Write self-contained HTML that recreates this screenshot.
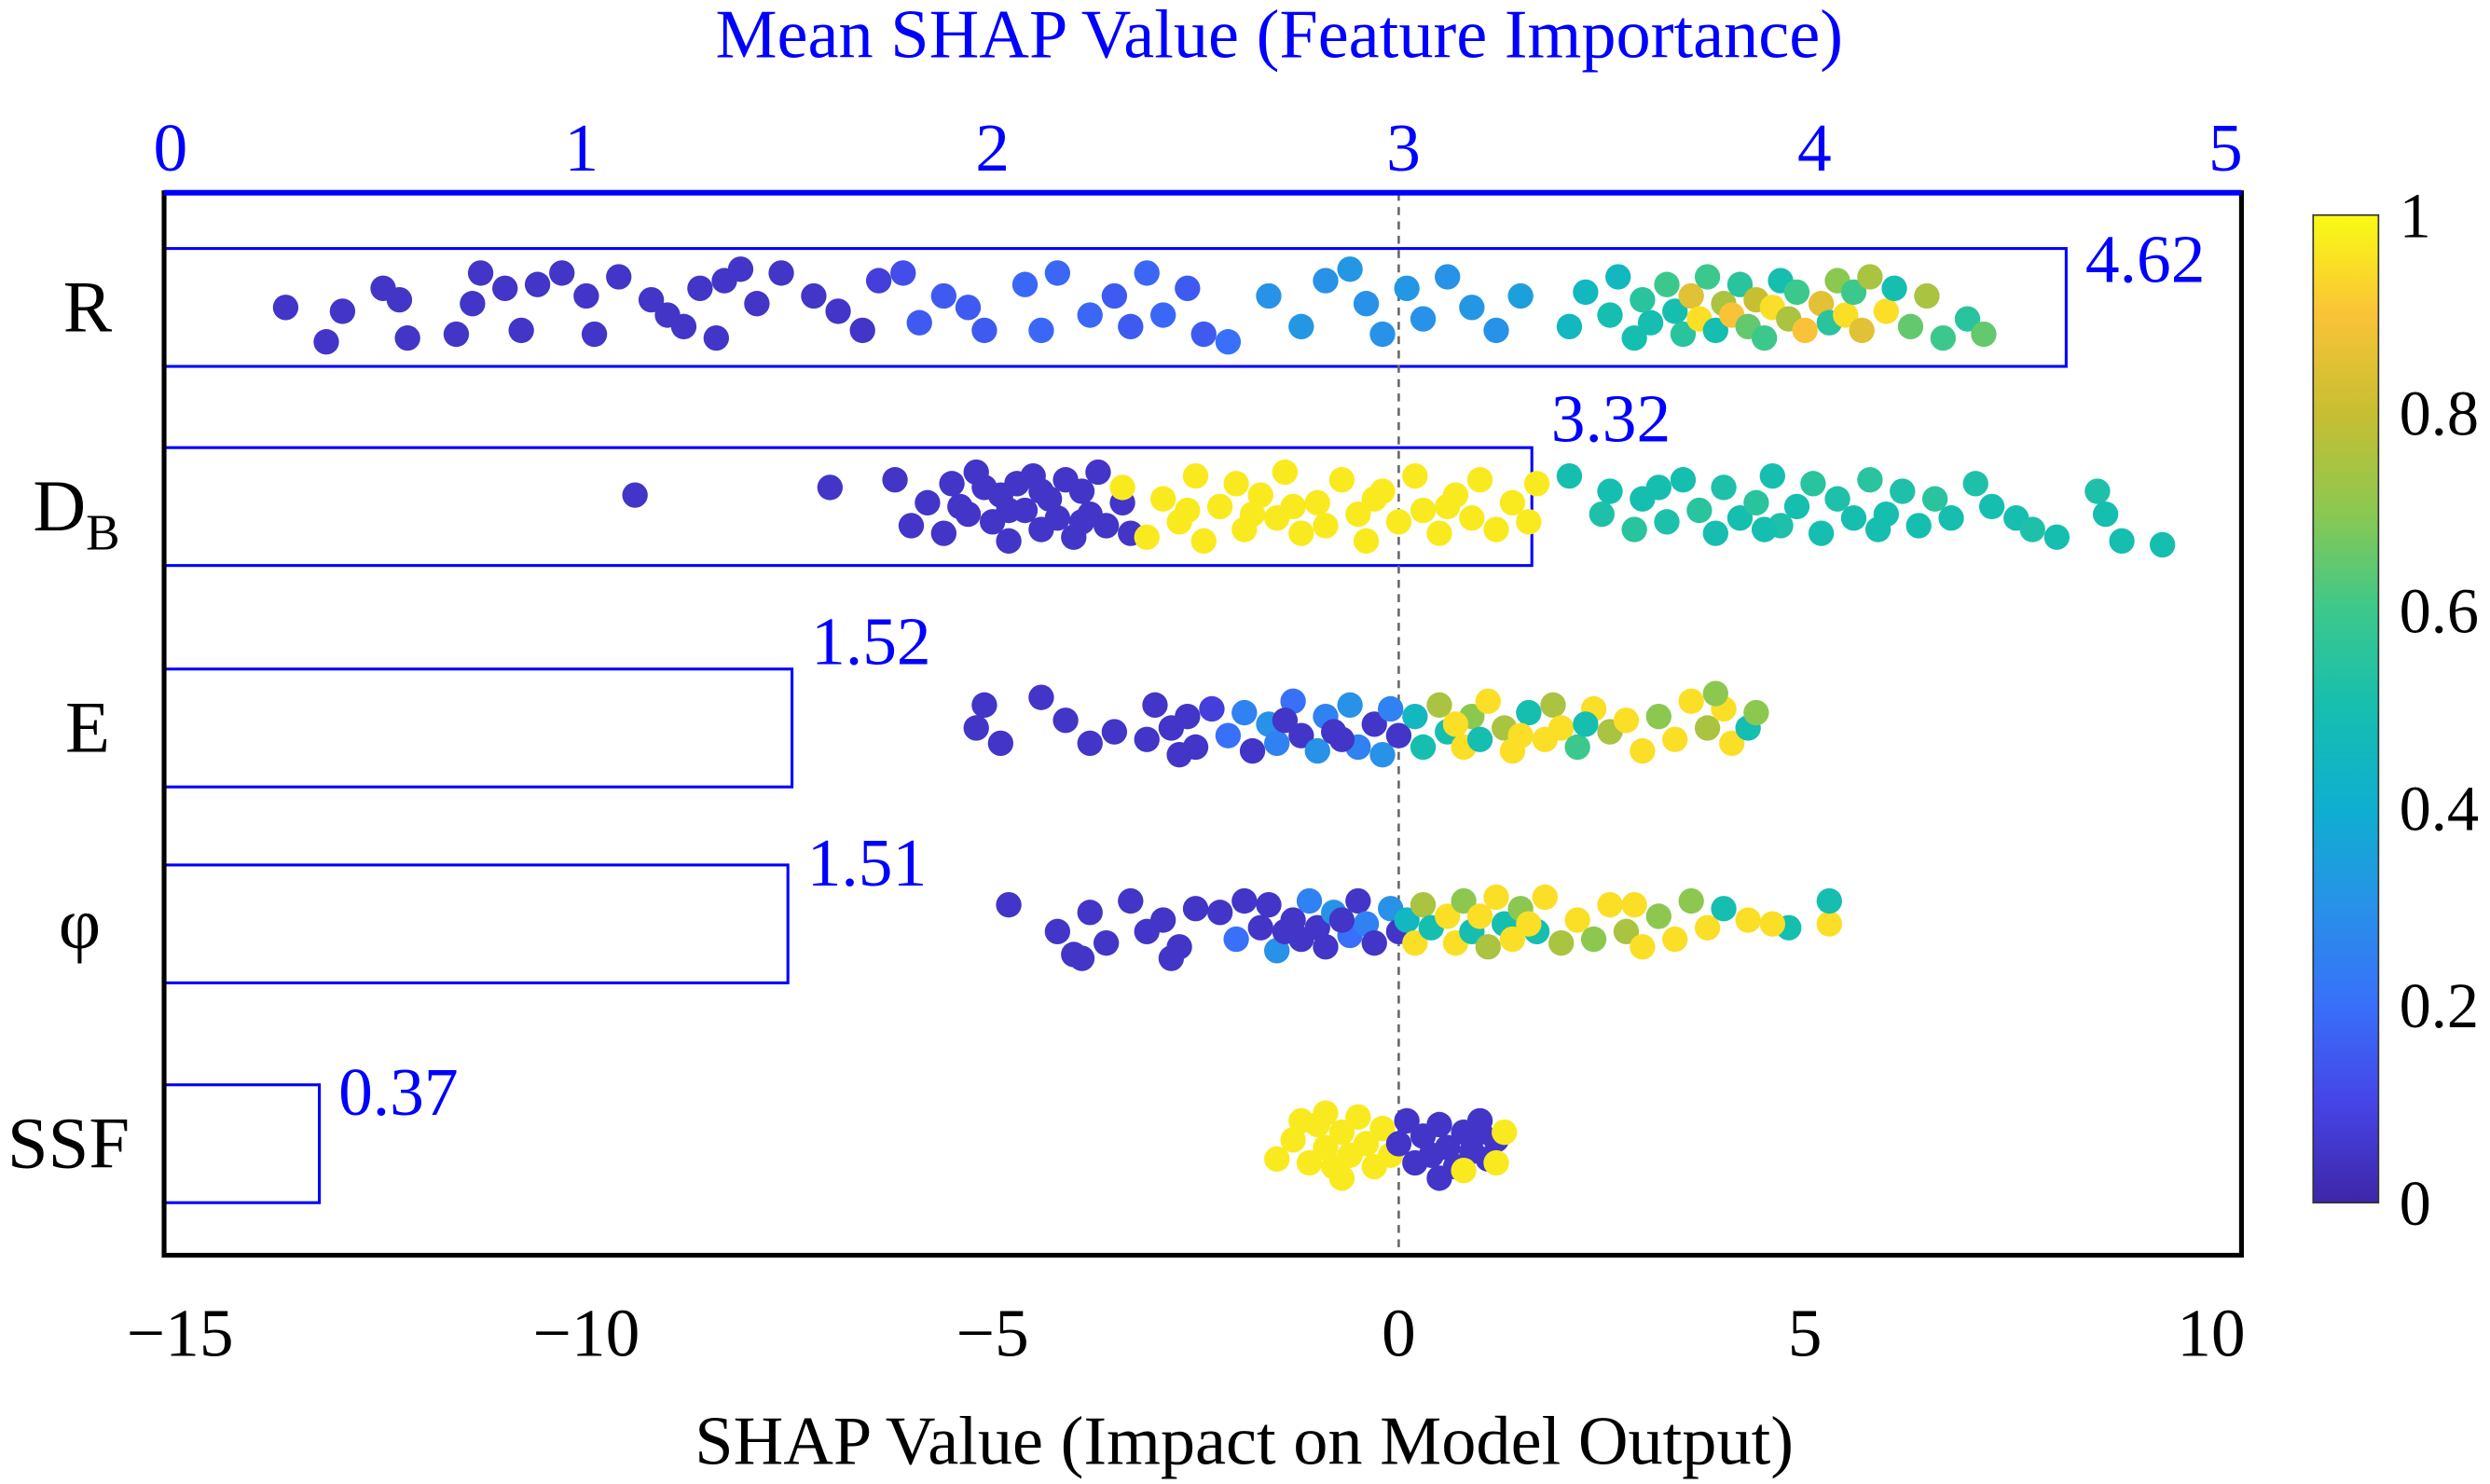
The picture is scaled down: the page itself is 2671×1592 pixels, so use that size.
<!DOCTYPE html>
<html><head><meta charset="utf-8"><style>
html,body{margin:0;padding:0;background:#fff;}
svg{display:block;}
text{font-family:"Liberation Serif",serif;}
</style></head><body>
<svg id="chart" width="2671" height="1592" viewBox="0 0 1563 931.6" xmlns="http://www.w3.org/2000/svg">
<defs>
<linearGradient id="parula" x1="0" y1="1" x2="0" y2="0">
<stop offset="0" stop-color="rgb(62,38,168)"/><stop offset="0.1" stop-color="rgb(70,68,230)"/>
<stop offset="0.2" stop-color="rgb(56,112,250)"/><stop offset="0.3" stop-color="rgb(40,145,232)"/>
<stop offset="0.4" stop-color="rgb(14,175,208)"/><stop offset="0.5" stop-color="rgb(22,190,176)"/>
<stop offset="0.6" stop-color="rgb(60,200,140)"/><stop offset="0.7" stop-color="rgb(140,200,80)"/>
<stop offset="0.8" stop-color="rgb(200,190,50)"/><stop offset="0.9" stop-color="rgb(250,195,55)"/>
<stop offset="1" stop-color="rgb(249,251,20)"/>
</linearGradient>
</defs>
<g id="bars"></g>
<g id="dots"></g>
<g id="axes"></g>
</svg>
<script>
const features = ["R","DB","E","φ","SSF"];
const meanShap = [4.62,3.32,1.52,1.51,0.37];
const meanLabels = ["4.62","3.32","1.52","1.51","0.37"];
const bottomTicks = [-15,-10,-5,0,5,10];
const topTicks = [0,1,2,3,4,5];
const cbTicks = [0,0.2,0.4,0.6,0.8,1];
const cbLabels = ["0","0.2","0.4","0.6","0.8","1"];
// [shap value, jitter (-1..1), feature value]
const ptsR = [[-13.7,0.0,.05],[-13.2,0.9,.05],[-13.0,0.1,.05],[-12.5,-0.5,.05],[-12.3,-0.2,.05],[-12.2,0.8,.05],[-11.6,0.7,.05],[-11.4,-0.1,.05],[-11.3,-0.9,.05],[-11.0,-0.5,.05],[-10.8,0.6,.05],[-10.6,-0.6,.05],[-10.3,-0.9,.05],[-10.0,-0.3,.05],[-9.9,0.7,.05],[-9.6,-0.8,.05],[-9.2,-0.2,.05],[-9.0,0.2,.05],[-8.8,0.5,.05],[-8.6,-0.5,.05],[-8.4,0.8,.05],[-8.3,-0.7,.05],[-8.1,-1.0,.05],[-7.9,-0.1,.05],[-7.6,-0.9,.05],[-7.2,-0.3,.05],[-6.9,0.1,.05],[-6.6,0.6,.05],[-6.4,-0.7,.08],
[-6.1,-0.9,.12],[-5.9,0.4,.15],[-5.6,-0.3,.15],[-5.3,0.0,.15],[-5.1,0.6,.15],[-4.6,-0.6,.18],[-4.4,0.6,.18],[-4.2,-0.9,.18],[-3.8,0.2,.18],[-3.5,-0.3,.15],[-3.3,0.5,.15],[-3.1,-0.9,.18],[-2.9,0.2,.18],[-2.6,-0.5,.15],[-2.4,0.7,.15],[-2.1,0.9,.2],
[-1.6,-0.3,.3],[-1.2,0.5,.32],[-0.9,-0.7,.3],[-0.6,-1.0,.32],[-0.4,-0.1,.3],[-0.2,0.7,.3],[0.1,-0.5,.32],[0.3,0.3,.3],[0.6,-0.8,.3],[0.9,0.0,.32],[1.2,0.6,.3],[1.5,-0.3,.35],
[2.1,0.5,.45],[2.3,-0.4,.45],[2.6,0.2,.5],[2.7,-0.8,.45],[2.9,0.8,.5],[3.0,-0.2,.55],[3.1,0.4,.5],[3.3,-0.6,.6],[3.4,0.1,.5],[3.5,0.7,.55],[3.6,-0.3,.85],[3.7,0.3,.95],[3.8,-0.8,.6],[3.9,0.6,.5],[4.0,-0.1,.75],[4.1,0.2,.9],[4.2,-0.6,.55],[4.3,0.5,.65],[4.4,-0.2,.8],[4.5,0.8,.6],[4.6,0.0,.95],[4.7,-0.7,.5],[4.8,0.3,.75],[4.9,-0.4,.6],[5.0,0.6,.9],[5.2,-0.1,.85],[5.3,0.4,.55],[5.4,-0.7,.7],[5.5,0.2,.95],[5.6,-0.4,.6],[5.7,0.6,.85],[5.8,-0.8,.75],[6.0,0.1,.95],[6.1,-0.5,.5],[6.3,0.5,.65],[6.5,-0.3,.75],[6.7,0.8,.6],[7.0,0.3,.55],[7.2,0.7,.65]];
const ptsDB = [[-9.4,-0.3,.05],[-7.0,-0.5,.05],[-6.2,-0.7,.05],[-6.0,0.5,.05],[-5.8,-0.1,.05],[-5.6,0.7,.05],[-5.5,-0.6,.05],[-5.3,0.2,.05],[-5.2,-0.9,.05],[-5.0,0.4,.05],[-4.9,-0.3,.05],[-4.8,0.9,.05],[-4.7,-0.6,.05],[-4.6,0.1,.05],[-4.5,-0.8,.05],[-4.4,0.6,.05],[-4.3,-0.2,.05],[-4.2,0.3,.05],[-4.1,-0.7,.05],[-4.0,0.8,.05],[-3.9,-0.4,.05],[-3.8,0.2,.05],[-3.7,-0.9,.05],[-3.6,0.5,.05],[-3.4,-0.1,.05],[-3.3,0.7,.05],[-5.4,0.0,.05],[-4.8,0.1,.05],[-5.1,-0.5,.05],[-4.4,-0.4,.05],[-3.9,0.4,.05],
[-3.4,-0.5,.97],[-3.1,0.8,.97],[-2.9,-0.2,.97],[-2.7,0.4,.97],[-2.5,-0.8,.97],[-2.4,0.9,.97],[-2.2,0.0,.97],[-2.0,-0.6,.97],[-1.9,0.6,.97],[-1.7,-0.3,.97],[-1.5,0.3,.97],[-1.4,-0.9,.97],[-1.2,0.7,.97],[-1.0,-0.1,.97],[-0.9,0.5,.97],[-0.7,-0.7,.97],[-0.5,0.2,.97],[-0.4,0.9,.97],[-0.2,-0.4,.97],[0.0,0.4,.97],[0.2,-0.8,.97],[0.3,0.1,.97],[0.5,0.7,.97],[0.7,-0.3,.97],[0.9,0.3,.97],[1.0,-0.7,.97],[1.2,0.6,.97],[1.4,-0.1,.97],[1.6,0.4,.97],[1.7,-0.6,.97],[-2.6,0.1,.97],[-1.3,0.0,.97],[-0.3,-0.2,.97],[0.6,0.0,.97],[-1.8,0.2,.97],
[2.1,-0.8,.5],[2.5,0.2,.52],[2.6,-0.4,.5],[2.9,0.6,.55],[3.0,-0.2,.5],[3.3,0.4,.52],[3.5,-0.7,.5],[3.7,0.1,.55],[3.9,0.7,.5],[4.0,-0.5,.52],[4.2,0.3,.5],[4.4,-0.1,.55],[4.6,-0.8,.5],[4.7,0.5,.52],[4.9,0.0,.5],[5.1,-0.6,.55],[5.2,0.7,.5],[5.4,-0.2,.52],[5.6,0.3,.5],[5.8,-0.7,.55],[6.0,0.2,.5],[6.2,-0.4,.52],[6.4,0.5,.5],[6.6,-0.2,.55],[6.8,0.3,.5],[7.1,-0.6,.52],[7.3,0.0,.5],[7.6,0.3,.5],[7.8,0.6,.52],[8.1,0.8,.5],[8.6,-0.4,.52],[8.7,0.2,.5],[8.9,0.9,.5],[9.4,1.0,.5],[5.9,0.6,.5],[4.5,0.6,.5],[3.2,-0.5,.5]];
const ptsE = [[-5.1,-0.6,.05],[-5.2,0.0,.05],[-4.9,0.4,.05],[-4.4,-0.8,.05],[-4.1,-0.2,.05],[-3.8,0.4,.05],[-3.5,0.1,.05],[-3.1,0.3,.05],[-3.0,-0.6,.05],[-2.8,0.0,.05],[-2.6,-0.3,.05],[-2.5,0.5,.05],[-2.7,0.7,.05],[-2.3,-0.5,.08],
[-2.1,0.2,.2],[-1.9,-0.4,.25],[-1.8,0.6,.05],[-1.6,-0.1,.3],[-1.5,0.4,.25],[-1.3,-0.7,.2],[-1.2,0.2,.05],[-1.0,0.6,.3],[-0.9,-0.3,.25],[-0.8,0.1,.05],[-0.6,-0.6,.3],[-0.5,0.5,.25],[-0.3,-0.1,.05],[-0.2,0.7,.3],[-0.1,-0.5,.25],[0.0,0.2,.05],[0.2,-0.3,.45],[0.3,0.5,.5],[-1.4,-0.2,.05],[-0.7,0.3,.05],
[0.5,-0.6,.75],[0.6,0.1,.5],[0.8,0.5,.95],[0.9,-0.3,.7],[1.0,0.3,.5],[1.1,-0.7,.95],[1.3,0.0,.75],[1.4,0.6,.95],[1.6,-0.4,.5],[1.8,0.3,.95],[1.9,-0.6,.75],[2.0,0.0,.95],[2.2,0.5,.6],[2.4,-0.5,.95],[2.6,0.1,.75],[2.8,-0.2,.95],[3.0,0.6,.95],[3.2,-0.3,.7],[3.4,0.3,.95],[3.6,-0.7,.95],[3.8,0.0,.75],[4.0,-0.5,.95],[4.1,0.4,.95],[4.3,0.0,.5],[4.4,-0.4,.7],[3.9,-0.9,.7],[1.5,0.2,.95],[0.7,-0.1,.95],[2.3,-0.1,.5]];
const ptsPhi = [[-4.8,-0.5,.05],[-4.2,0.2,.05],[-4.0,0.8,.05],[-3.8,-0.3,.05],[-3.6,0.5,.05],[-3.3,-0.6,.05],[-3.1,0.2,.05],[-2.9,-0.1,.05],[-2.7,0.6,.05],[-2.5,-0.4,.05],[-2.8,0.9,.05],[-3.9,0.9,.05],
[-2.2,-0.3,.05],[-2.0,0.4,.2],[-1.9,-0.6,.05],[-1.7,0.1,.05],[-1.6,-0.5,.05],[-1.5,0.7,.3],[-1.3,-0.1,.05],[-1.2,0.4,.05],[-1.1,-0.6,.25],[-1.0,0.1,.05],[-0.9,0.6,.05],[-0.8,-0.3,.3],[-0.6,0.3,.2],[-0.5,-0.6,.05],[-0.4,0.0,.25],[-0.3,0.5,.05],[-0.1,-0.4,.3],[0.0,0.2,.05],[0.1,-0.1,.45],[-1.4,0.2,.05],[-0.7,-0.1,.05],
[0.2,0.5,.95],[0.3,-0.5,.75],[0.4,0.1,.5],[0.6,-0.2,.95],[0.7,0.5,.95],[0.8,-0.6,.7],[0.9,0.2,.5],[1.0,-0.2,.95],[1.1,0.6,.75],[1.2,-0.7,.95],[1.3,0.0,.5],[1.4,0.4,.95],[1.5,-0.4,.7],[1.7,0.2,.5],[1.8,-0.7,.95],[2.0,0.5,.75],[2.2,-0.1,.95],[2.4,0.4,.7],[2.6,-0.5,.95],[2.8,0.2,.75],[3.0,0.6,.95],[3.2,-0.2,.7],[3.4,0.4,.95],[3.6,-0.6,.7],[3.8,0.1,.95],[4.0,-0.4,.5],[4.3,-0.1,.95],[4.8,0.1,.5],[5.3,0.0,.95],[5.3,-0.6,.5],[4.6,0.0,.95],[2.9,-0.5,.95],[1.6,0.0,.95]];
const ptsSSF = [[-1.5,0.4,.97],[-1.3,-0.1,.97],[-1.1,0.5,.97],[-1.0,-0.5,.97],[-0.9,0.1,.97],[-0.8,0.6,.97],[-0.7,-0.3,.97],[-0.6,0.3,.97],[-0.5,-0.7,.97],[-0.4,0.0,.97],[-0.3,0.6,.97],[-0.2,-0.4,.97],[-0.1,0.3,.97],[-1.2,-0.6,.97],[-0.9,-0.8,.97],[-0.7,0.9,.97],
[0.0,0.0,.05],[0.1,-0.6,.05],[0.2,0.5,.05],[0.3,-0.2,.05],[0.4,0.3,.05],[0.5,-0.5,.05],[0.6,0.1,.05],[0.7,0.6,.05],[0.8,-0.3,.05],[0.9,0.2,.05],[1.0,-0.6,.05],[1.1,0.4,.05],[1.2,-0.1,.05],[0.5,0.9,.05],[1.0,-0.3,.05],
[1.2,0.5,.97],[1.3,-0.3,.97],[0.8,0.7,.97]];
const allPts = [ptsR, ptsDB, ptsE, ptsPhi, ptsSSF];

const NS = "http://www.w3.org/2000/svg";
const PL=103, PR=1407, PT=121, PB=788;
const rowCenters = [193,318,457,580,718];
const rowHalf = 37;
const labelDy = [21,-4,-3,13,19];
function xBottom(v){ return 878 + v*51; }
function xTop(v){ return 105 + v*258; }
function yRow(i, j){ return rowCenters[i] + j*24; }
function yCb(v){ return 755 - v*620; }
const stops=[[0,62,38,168],[0.1,70,68,230],[0.2,56,112,250],[0.3,40,145,232],[0.4,14,175,208],[0.5,22,190,176],[0.6,60,200,140],[0.7,140,200,80],[0.8,200,190,50],[0.9,250,195,55],[1,249,251,20]];
function parula(v){
  for(let k=0;k<stops.length-1;k++){
    const a=stops[k], b=stops[k+1];
    if(v<=b[0]){ const t=(v-a[0])/(b[0]-a[0]);
      return `rgb(${Math.round(a[1]+(b[1]-a[1])*t)},${Math.round(a[2]+(b[2]-a[2])*t)},${Math.round(a[3]+(b[3]-a[3])*t)})`; }
  }
  return "rgb(249,251,20)";
}
function mk(tag, attrs, parent, txt){
  const e=document.createElementNS(NS,tag);
  for(const k in attrs) e.setAttribute(k, attrs[k]);
  if(txt!==undefined) e.textContent=txt;
  parent.appendChild(e); return e;
}
const gBars=document.getElementById('bars'), gDots=document.getElementById('dots'), gAx=document.getElementById('axes');

meanShap.forEach((v,i)=>{
  const r=mk('rect',{x:PL,y:rowCenters[i]-rowHalf,width:xTop(v)-PL,height:rowHalf*2,fill:'none',stroke:'#0000ff','stroke-width':1.8},gBars);
  
  
  const t=mk('text',{x:xTop(v)+12,y:rowCenters[i]-rowHalf+labelDy[i],'font-size':43,fill:'#0000ff'},gBars,meanLabels[i]);
  
  
});
const zl=mk('line',{x1:xBottom(0),x2:xBottom(0),y1:PT,y2:PB,stroke:'#666','stroke-width':1.5,'stroke-dasharray':'5,4'},gBars);



allPts.forEach((pts,i)=>{
  pts.forEach(p=>{
    const c=mk('circle',{cx:xBottom(p[0]),cy:yRow(i,p[1]),r:8,fill:parula(p[2])},gDots);
    
    
  });
});

const fr=mk('rect',{x:PL,y:PT,width:PR-PL,height:PB-PT,fill:'none',stroke:'#000','stroke-width':3},gAx);


const ta=mk('line',{x1:PL,x2:PR,y1:PT,y2:PT,stroke:'#0000ff','stroke-width':3.5},gAx);



bottomTicks.forEach(v=>{
  const t=mk('text',{x:xBottom(v),y:851,'font-size':43,'text-anchor':'middle',fill:'#000'},gAx,v<0?'\u2212'+Math.abs(v):String(v));
  
  
});
topTicks.forEach(v=>{
  const t=mk('text',{x:xTop(v)+2,y:107,'font-size':43,'text-anchor':'middle',fill:'#0000ff'},gAx,String(v));
  
  
});
const tt=mk('text',{x:803,y:36,'font-size':43.5,'text-anchor':'middle',fill:'#0000ff'},gAx,'Mean SHAP Value (Feature Importance)');


const bt=mk('text',{x:781,y:919,'font-size':43.5,'text-anchor':'middle',fill:'#000'},gAx,'SHAP Value (Impact on Model Output)');



const labX=[55,48,55,50,43];
features.forEach((f,i)=>{
  const t=mk('text',{x:labX[i],y:rowCenters[i]+15,'font-size':46,'text-anchor':'middle',fill:'#000'},gAx);
  
  
  if(f==="DB"){ t.textContent='D'; mk('tspan',{'font-size':32,dy:12},t,'B'); }
  else t.textContent=f;
});

const cb=mk('rect',{x:1452,y:yCb(1),width:41,height:yCb(0)-yCb(1),fill:'url(#parula)',stroke:'#333','stroke-width':1},gAx);


cbTicks.forEach((v,k)=>{
  const t=mk('text',{x:1506,y:yCb(v)+14,'font-size':40,fill:'#000'},gAx,cbLabels[k]);
  
  
});
</script>
</body></html>
